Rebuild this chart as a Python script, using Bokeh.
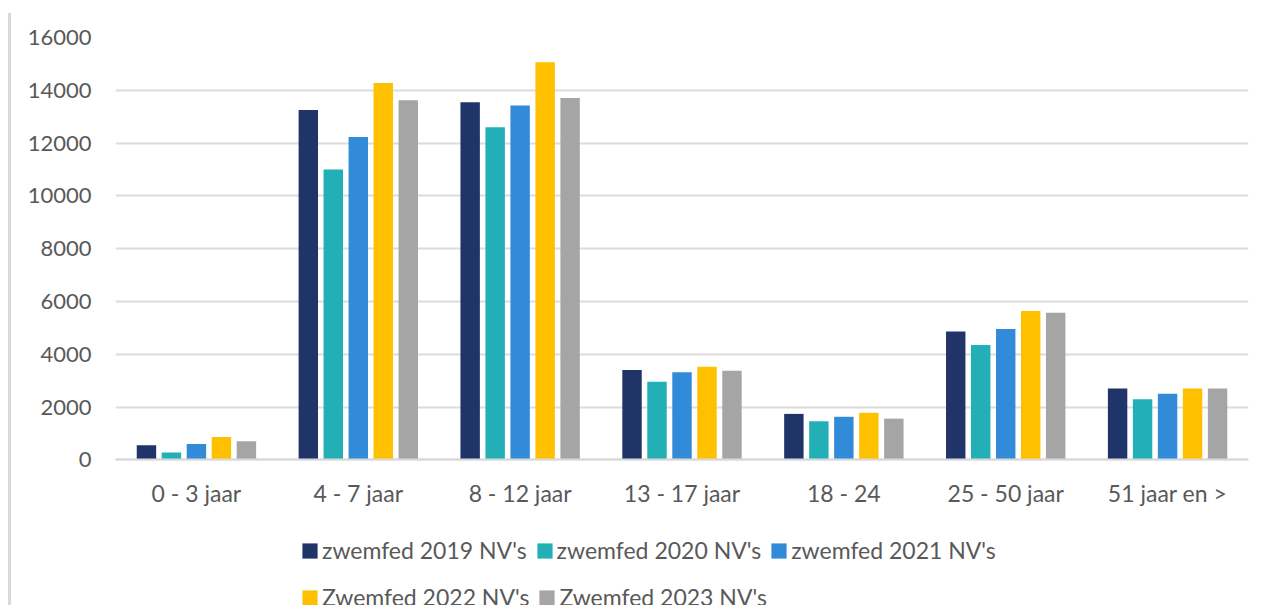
from bokeh.plotting import figure
from bokeh.models import (FactorRange, Range1d, Legend, LegendItem, FixedTicker,
                          NumeralTickFormatter, ColumnDataSource)
from bokeh.transform import dodge
from bokeh.embed import file_html
from bokeh.resources import INLINE

categories = ["0 - 3 jaar", "4 - 7 jaar", "8 - 12 jaar", "13 - 17 jaar",
              "18 - 24", "25 - 50 jaar", "51 jaar en >"]
v2019 = [550, 13250, 13550, 3400, 1740, 4860, 2700]
v2020 = [280, 11000, 12600, 2960, 1460, 4350, 2290]
v2021 = [600, 12230, 13420, 3320, 1630, 4960, 2500]
v2022 = [860, 14280, 15060, 3530, 1780, 5640, 2700]
v2023 = [700, 13620, 13710, 3370, 1560, 5570, 2700]
series_names = ["zwemfed 2019 NV's", "zwemfed 2020 NV's", "zwemfed 2021 NV's",
                "Zwemfed 2022 NV's", "Zwemfed 2023 NV's"]
colors = ["#213469", "#22b0b6", "#318bd9", "#ffc000", "#a5a5a5"]
yticks = [0, 2000, 4000, 6000, 8000, 10000, 12000, 14000, 16000]

FONT = "Lato"
TXT = "#595959"

source = ColumnDataSource(dict(cat=categories, v2019=v2019, v2020=v2020,
                               v2021=v2021, v2022=v2022, v2023=v2023))

p = figure(width=1252, height=592, output_backend="svg", toolbar_location=None,
           x_range=FactorRange(*categories, range_padding=0),
           y_range=Range1d(-5520, 16000),
           min_border_left=104, min_border_right=15, min_border_top=24,
           min_border_bottom=0)
p.styles = {"margin-left": "8px", "margin-top": "13px",
            "border-left": "3px solid #d9d9d9"}
p.outline_line_color = None
p.background_fill_color = "white"
p.border_fill_color = "white"

fields = ["v2019", "v2020", "v2021", "v2022", "v2023"]
pitch = 0.1544
renderers = []
for i, f in enumerate(fields):
    r = p.vbar(x=dodge("cat", (i - 2) * pitch, range=p.x_range), top=f,
               width=0.12, source=source, fill_color=colors[i], line_color=None)
    renderers.append(r)

# axes
p.xaxis.fixed_location = 0
p.xaxis.axis_line_color = "#d9d9d9"
p.xaxis.axis_line_width = 2
p.xaxis.major_tick_line_color = None
p.xaxis.minor_tick_line_color = None
p.xaxis.major_label_text_font = FONT
p.xaxis.major_label_text_font_size = "23px"
p.xaxis.major_label_text_color = TXT
p.xaxis.major_label_standoff = 13

p.yaxis.ticker = FixedTicker(ticks=yticks)
p.yaxis.formatter = NumeralTickFormatter(format="0")
p.yaxis.axis_line_color = None
p.yaxis.major_tick_line_color = None
p.yaxis.minor_tick_line_color = None
p.yaxis.major_label_text_font = FONT
p.yaxis.major_label_text_font_size = "22px"
p.yaxis.major_label_text_color = TXT
p.yaxis.major_label_standoff = 18

p.xgrid.grid_line_color = None
p.ygrid.grid_line_color = "#dcdcdc"
p.ygrid.grid_line_width = 2

def make_legend(idx, loc):
    return Legend(items=[LegendItem(label=series_names[i], renderers=[renderers[i]]) for i in idx],
                  location=loc, orientation="horizontal",
                  glyph_width=19, glyph_height=19, label_standoff=3, spacing=8,
                  padding=0, margin=0, border_line_color=None,
                  background_fill_alpha=0,
                  label_text_font=FONT, label_text_font_size="23px",
                  label_text_color=TXT)

p.add_layout(make_legend([0, 1, 2], (185, 41)), "center")
p.add_layout(make_legend([3, 4], (185, -6)), "center")

open("out.html", "w").write(file_html(p, INLINE))
